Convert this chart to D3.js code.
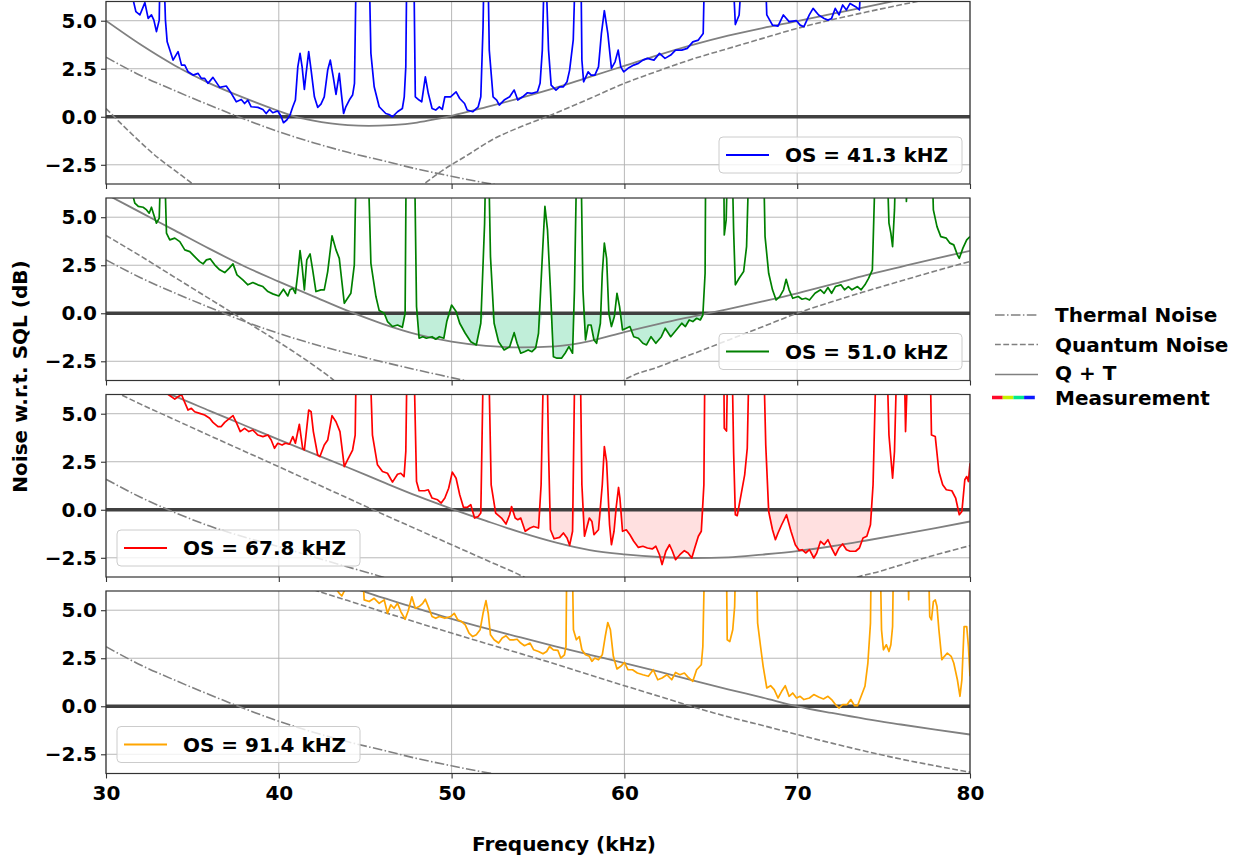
<!DOCTYPE html>
<html>
<head>
<meta charset="utf-8">
<script src="https://cdn.jsdelivr.net/npm/d3@7"></script>
<style>
  html, body { margin: 0; padding: 0; background: #fff; }
  svg { display: block; font-family: "DejaVu Sans", sans-serif; }
</style>
</head>
<body>
<svg id="chart" width="1248" height="859"></svg>
<script>
// ---- data (kHz, dB w.r.t. SQL); 9 = off the top of the axes ----
const xTicks = [30, 40, 50, 60, 70, 80];
const yTicks = [-2.5, 0, 2.5, 5];
const osLabels = ["OS = 41.3 kHZ", "OS = 51.0 kHZ", "OS = 67.8 kHZ", "OS = 91.4 kHZ"];
const legendLabels = ["Thermal Noise", "Quantum Noise", "Q + T", "Measurement"];

// panel 1 (OS 41.3 kHz)
const thermal1 = [[30,3.1],[32,2.15],[34,1.35],[36,0.6],[38,-0.12],[40,-0.78],[42,-1.35],[44,-1.85],[46,-2.28],[48,-2.72],[50,-3.1],[52,-3.45],[53,-3.6]];
const quantum1 = [[30,0.43],[31,-0.47],[32,-1.33],[33,-2.13],[34,-2.8],[35,-3.48],[35.6,-3.85],[40,null],
  [48.1,-3.7],[48.44,-3.47],[49.5,-2.78],[51,-1.95],[52.3,-1.22],[54,-0.52],[55.5,0.0],[58,0.95],[60,1.74],[62,2.4],[64,3.02],[66,3.55],[68,4.08],[70,4.6],[72,5.05],[74,5.45],[76,5.83],[77.5,6.1]];
const qt1 = [[30,5.0],[32,3.76],[34,2.66],[36,1.74],[38,0.98],[40,0.3],[41,0.0],[42,-0.2],[43,-0.34],[44,-0.43],[45.2,-0.47],[46.5,-0.43],[48,-0.3],[49,-0.14],[50,0.05],[52,0.5],[54,0.98],[56,1.5],[58,2.08],[60,2.65],[62,3.22],[64,3.75],[66,4.22],[68,4.62],[70,4.98],[72,5.35],[74,5.72],[76,6.1]];
const measBlue = [[31.5,9],[31.58,6.05],[31.73,5.47],[31.96,5.3],[32.25,5.94],[32.44,5.12],[32.63,5.3],[32.77,5.03],[32.92,4.43],[33.08,5.03],[33.15,9],[33.3,9],[33.44,5.03],[33.54,3.9],[33.88,2.95],[34.17,3.39],[34.37,2.69],[34.56,2.69],[34.75,2.34],[35.04,2.17],[35.33,2.26],[35.52,2.0],[35.71,2.0],[35.9,1.74],[36.19,2.05],[36.58,1.53],[36.96,1.6],[37.25,1.22],[37.54,0.78],[37.83,0.9],[38.02,0.69],[38.21,0.87],[38.4,0.52],[38.79,0.49],[39.08,0.38],[39.27,0.17],[39.46,0.38],[39.65,0.21],[39.94,0.3],[40.13,0.03],[40.27,-0.31],[40.46,-0.17],[40.65,0.09],[40.81,0.52],[40.96,0.87],[41.1,2.6],[41.23,3.3],[41.35,2.6],[41.48,1.42],[41.58,2.26],[41.73,3.39],[41.87,2.43],[42.06,1.04],[42.25,0.49],[42.44,0.66],[42.63,1.04],[42.83,2.43],[42.98,2.95],[43.15,2.08],[43.31,1.16],[43.5,2.26],[43.63,1.13],[43.75,0.17],[43.88,0.52],[44.08,0.87],[44.27,1.13],[44.38,1.74],[44.5,9],[45.2,9],[45.33,3.3],[45.52,1.56],[45.81,0.52],[46.19,0.17],[46.38,0.12],[46.58,0.0],[46.87,0.26],[47.15,0.43],[47.26,1.04],[47.35,2.6],[47.42,9],[47.8,9],[47.9,1.04],[48.12,0.87],[48.27,0.78],[48.48,2.08],[48.65,1.22],[48.87,0.43],[49.08,0.35],[49.29,0.52],[49.46,0.38],[49.61,1.04],[49.94,1.04],[50.26,1.3],[50.47,0.95],[50.75,0.69],[50.9,0.35],[51.22,0.26],[51.54,0.52],[51.69,1.04],[51.82,4.69],[51.9,9],[52.08,9],[52.18,3.47],[52.4,1.04],[52.61,0.87],[52.76,0.61],[53.04,0.87],[53.36,1.04],[53.62,1.39],[53.83,0.87],[54.11,1.04],[54.39,1.25],[54.65,1.22],[54.97,1.3],[55.12,1.74],[55.25,3.47],[55.4,9],[55.61,3.47],[55.76,1.65],[56.04,1.39],[56.25,1.56],[56.47,1.56],[56.68,1.82],[56.83,2.43],[57.04,4.0],[57.2,9],[57.47,9],[57.54,2.95],[57.64,1.82],[57.9,2.34],[58.07,2.17],[58.29,2.17],[58.5,2.6],[58.67,4.34],[58.84,5.52],[59.04,4.34],[59.25,2.52],[59.46,2.86],[59.64,3.47],[59.79,2.6],[59.96,2.34],[60.21,2.52],[60.54,2.69],[60.81,2.78],[61.07,2.95],[61.33,3.04],[61.71,2.95],[62.03,3.3],[62.35,3.04],[62.68,3.21],[62.96,3.47],[63.32,3.47],[63.64,3.56],[63.96,3.9],[64.28,3.99],[64.56,4.34],[64.67,9],[66.2,9],[66.42,4.8],[66.64,5.3],[66.9,9],[68.1,9],[68.24,5.3],[68.57,4.77],[68.89,4.72],[69.2,5.3],[69.53,4.95],[69.96,5.0],[70.17,4.77],[70.39,4.69],[70.7,5.3],[70.92,5.64],[71.24,5.3],[71.56,5.12],[71.78,5.03],[71.99,5.12],[72.2,5.64],[72.42,5.3],[72.63,5.82],[72.85,5.56],[73.06,5.9],[73.38,5.73],[73.6,5.56],[73.81,9],[80,9]];

// panel 2 (OS 51.0 kHz)
const thermal2 = [[30,2.78],[32,1.85],[34,1.05],[36,0.3],[38,-0.42],[40,-1.05],[42,-1.6],[44,-2.08],[46,-2.53],[48,-2.95],[50,-3.35],[51,-3.55]];
const quantum2 = [[30,4.05],[32,2.98],[34,1.86],[36,0.75],[37.35,0],[38,-0.37],[40,-1.5],[42,-2.7],[43.2,-3.5],[43.6,-3.8],[50,null],
  [59.7,-3.65],[60,-3.47],[62,-2.78],[64,-2.1],[66,-1.4],[68,-0.7],[70,0.0],[72,0.6],[74,1.15],[76,1.68],[78,2.2],[80,2.7]];
const qt2 = [[30,6.2],[32,5.25],[34,4.3],[36,3.35],[38,2.45],[40,1.65],[42,0.88],[44,0.12],[46,-0.55],[48,-1.1],[50,-1.48],[52,-1.7],[54,-1.78],[56,-1.72],[58,-1.45],[60,-0.98],[62,-0.55],[64,-0.16],[66,0.22],[68,0.62],[70,1.04],[72,1.5],[74,1.98],[76,2.42],[78,2.85],[80,3.25]];
const measGreen = [[31.5,9],[31.58,6.04],[31.67,5.73],[31.87,5.56],[32.15,5.52],[32.35,5.38],[32.5,5.21],[32.63,5.52],[32.77,5.12],[32.92,4.69],[33.08,4.95],[33.21,9],[33.35,9],[33.5,4.17],[33.69,3.82],[33.98,3.91],[34.27,3.73],[34.56,3.3],[34.85,3.21],[35.13,2.95],[35.42,2.69],[35.62,2.57],[35.81,2.78],[36.04,2.83],[36.29,2.52],[36.58,2.26],[36.87,2.12],[37.12,2.34],[37.35,2.57],[37.58,2.0],[37.92,1.74],[38.21,1.48],[38.5,1.6],[38.79,1.48],[39.08,1.39],[39.37,1.13],[39.65,1.01],[40.0,0.9],[40.27,1.25],[40.52,0.9],[40.65,1.22],[40.81,1.3],[40.96,1.04],[41.1,2.08],[41.23,3.26],[41.35,2.43],[41.48,1.22],[41.62,2.78],[41.81,3.09],[41.96,2.26],[42.15,1.13],[42.44,1.22],[42.63,1.22],[42.83,2.17],[43.08,4.03],[43.31,3.3],[43.5,2.86],[43.79,0.52],[43.98,0.78],[44.17,1.04],[44.37,2.52],[44.5,9],[45.13,9],[45.33,2.6],[45.62,0.87],[45.81,0.14],[46.1,0.0],[46.29,-0.43],[46.58,-0.69],[46.87,-0.61],[47.15,-0.73],[47.31,0.0],[47.38,9],[47.84,9],[47.97,0.35],[48.12,-1.3],[48.33,-1.22],[48.54,-1.3],[48.87,-1.22],[49.08,-1.35],[49.29,-1.22],[49.55,-1.3],[49.72,-0.43],[50.0,0.43],[50.26,0.09],[50.47,-0.52],[50.79,-1.04],[51.11,-1.48],[51.43,-1.65],[51.69,-0.52],[51.91,4.69],[52.0,9],[52.12,9],[52.25,2.95],[52.46,-0.52],[52.72,-1.48],[53.04,-1.91],[53.36,-1.74],[53.62,-1.01],[53.79,-1.56],[54.0,-2.08],[54.22,-2.0],[54.43,-1.91],[54.65,-2.0],[54.86,-1.82],[55.03,-1.04],[55.25,2.95],[55.4,5.56],[55.55,4.34],[55.72,1.22],[55.89,-2.26],[56.1,-2.34],[56.36,-2.34],[56.57,-2.08],[56.79,-1.74],[57.0,-2.08],[57.11,1.22],[57.26,9],[57.47,9],[57.6,1.22],[57.75,-1.39],[57.9,-0.61],[58.07,-0.61],[58.24,-1.39],[58.39,-1.56],[58.61,-0.52],[58.72,2.08],[58.84,3.65],[58.97,2.86],[59.1,0.0],[59.25,-0.69],[59.42,-0.17],[59.57,1.04],[59.72,0.35],[59.89,-0.87],[60.11,-0.78],[60.32,-0.69],[60.54,-1.22],[60.81,-1.3],[61.07,-1.56],[61.28,-1.65],[61.54,-1.22],[61.82,-1.56],[62.14,-1.22],[62.36,-0.78],[62.68,-1.22],[63.0,-0.87],[63.32,-0.52],[63.53,-0.69],[63.75,-0.35],[63.96,-0.43],[64.18,-0.26],[64.39,-0.35],[64.54,-0.09],[64.67,2.08],[64.71,9],[65.74,9],[65.78,4.08],[65.89,4.86],[66.0,9],[66.21,9],[66.32,4.34],[66.42,1.48],[66.64,1.82],[66.9,2.17],[67.07,3.47],[67.24,9],[68.03,9],[68.14,3.99],[68.35,2.08],[68.57,1.22],[68.78,0.69],[68.99,0.87],[69.21,1.22],[69.36,1.77],[69.53,1.22],[69.74,0.78],[70.06,0.87],[70.28,0.73],[70.49,0.78],[70.71,0.69],[71.03,1.04],[71.35,1.22],[71.56,1.04],[71.78,1.34],[71.99,1.04],[72.21,1.39],[72.53,1.48],[72.74,1.22],[72.96,1.39],[73.17,1.22],[73.49,1.39],[73.7,1.22],[73.92,1.48],[74.13,1.82],[74.35,2.26],[74.56,9],[75.16,9],[75.31,4.69],[75.42,4.17],[75.52,3.47],[75.63,5.38],[75.74,9],[76.27,9],[76.32,5.82],[76.45,9],[77.77,9],[77.88,5.38],[78.09,4.51],[78.31,3.99],[78.63,3.91],[78.84,3.65],[79.06,3.56],[79.27,3.04],[79.38,2.86],[79.59,3.39],[79.81,3.82],[80.0,3.99]];

// panel 3 (OS 67.8 kHz)
const thermal3 = [[30,1.59],[32,0.65],[34,-0.15],[36,-0.85],[38,-1.42],[40,-1.92],[42,-2.45],[44,-2.98],[46,-3.5],[46.5,-3.65]];
const quantum3 = [[30.5,6.15],[32,5.5],[34,4.68],[36,3.86],[38,3.05],[40,2.24],[42,1.42],[44,0.6],[46,-0.22],[48,-1.02],[50,-1.82],[52,-2.62],[54,-3.42],[54.5,-3.65],[60,null],
  [73,-3.65],[73.5,-3.5],[74.8,-3.2],[76,-2.87],[78,-2.35],[80,-1.87]];
const qt3 = [[33.3,6.15],[34,5.9],[36,5.15],[38,4.4],[40,3.65],[42,2.92],[44,2.2],[46,1.45],[48,0.72],[50,0.05],[52,-0.58],[54,-1.18],[56,-1.7],[58,-2.1],[60,-2.32],[62,-2.46],[64,-2.51],[66,-2.48],[68,-2.33],[70,-2.15],[72,-1.9],[74,-1.6],[76,-1.28],[78,-0.95],[80,-0.61]];
const measRed = [[33.5,6.3],[33.6,6.0],[33.79,5.88],[33.98,5.76],[34.17,5.88],[34.37,6.0],[34.5,5.71],[34.75,5.19],[34.94,5.28],[35.13,5.1],[35.42,5.02],[35.71,4.93],[36.0,4.76],[36.19,4.55],[36.48,4.33],[36.67,4.33],[36.87,4.55],[37.15,4.76],[37.35,4.9],[37.54,4.55],[37.77,4.07],[38.02,4.24],[38.27,4.07],[38.5,4.15],[38.79,3.89],[39.08,3.81],[39.37,3.89],[39.56,3.63],[39.75,3.2],[39.94,3.46],[40.19,3.37],[40.38,3.46],[40.62,3.41],[40.81,3.81],[40.96,3.46],[41.19,4.45],[41.38,3.2],[41.48,3.11],[41.73,5.19],[41.87,5.1],[42.0,4.07],[42.25,2.85],[42.38,2.77],[42.63,3.37],[42.83,3.63],[43.08,4.9],[43.31,4.58],[43.54,4.07],[43.79,2.25],[43.98,2.6],[44.27,3.11],[44.42,3.89],[44.5,9],[45.23,9],[45.42,3.89],[45.71,2.34],[46.0,1.99],[46.29,1.9],[46.58,1.44],[46.87,1.85],[47.06,1.9],[47.25,1.73],[47.35,3.03],[47.44,9],[47.79,9],[47.97,1.47],[48.12,0.99],[48.44,0.99],[48.65,1.04],[48.87,0.61],[49.19,0.52],[49.4,0.35],[49.61,0.61],[49.83,1.12],[50.04,1.96],[50.26,1.64],[50.47,0.78],[50.69,0.12],[50.9,0.12],[51.11,0.26],[51.33,-0.43],[51.54,-0.35],[51.69,-0.17],[51.86,9],[52.12,9],[52.29,1.3],[52.55,-0.17],[52.89,-0.43],[53.15,-0.74],[53.36,-0.26],[53.47,0.17],[53.68,-0.43],[53.83,-0.52],[54.0,-0.43],[54.26,-1.12],[54.54,-0.95],[54.75,-0.87],[55.03,-0.95],[55.18,1.3],[55.35,9],[55.5,9],[55.61,3.03],[55.72,-1.04],[55.93,-1.51],[56.25,-1.44],[56.47,-1.21],[56.68,-1.47],[56.83,-1.85],[57.0,-1.12],[57.15,9],[57.43,9],[57.54,1.3],[57.69,-1.38],[57.97,-0.43],[58.12,-0.61],[58.24,-1.3],[58.5,-1.04],[58.72,1.3],[58.84,3.29],[58.97,2.51],[59.14,-0.78],[59.25,-1.82],[59.4,-1.12],[59.53,0.17],[59.66,1.16],[59.74,0.61],[59.89,-1.12],[60.11,-1.04],[60.32,-1.3],[60.54,-1.64],[60.81,-1.96],[61.07,-1.9],[61.33,-1.99],[61.61,-2.04],[61.82,-1.9],[62.03,-2.34],[62.18,-2.85],[62.4,-2.16],[62.61,-1.82],[62.78,-2.16],[62.96,-2.6],[63.21,-2.34],[63.47,-2.13],[63.68,-2.25],[63.9,-2.51],[64.07,-1.99],[64.28,-1.38],[64.45,-1.12],[64.6,1.3],[64.67,9],[65.74,9],[65.78,4.24],[65.91,4.1],[66.0,9],[66.21,9],[66.32,3.03],[66.42,-0.26],[66.53,-0.31],[66.75,0.78],[66.96,1.82],[67.11,3.2],[67.24,9],[68.03,9],[68.18,3.37],[68.35,-0.09],[68.57,-1.04],[68.74,-1.56],[68.89,-1.21],[69.1,-0.78],[69.38,-0.26],[69.64,-1.12],[69.89,-1.82],[70.11,-2.11],[70.28,-2.08],[70.49,-2.25],[70.71,-2.08],[70.96,-2.51],[71.13,-2.25],[71.35,-1.64],[71.56,-1.82],[71.78,-1.56],[71.99,-1.99],[72.21,-2.37],[72.42,-1.99],[72.63,-1.78],[72.85,-2.08],[73.06,-2.16],[73.38,-2.16],[73.6,-1.99],[73.81,-1.47],[74.03,-1.38],[74.24,-0.78],[74.39,1.3],[74.6,9],[75.16,9],[75.31,3.89],[75.52,1.64],[75.63,3.03],[75.8,9],[76.17,9],[76.27,4.07],[76.45,9],[77.67,9],[77.77,3.89],[77.99,3.81],[78.2,1.99],[78.42,1.3],[78.63,1.04],[78.95,0.99],[79.17,0.61],[79.38,-0.26],[79.53,-0.09],[79.7,1.56],[79.81,1.73],[79.91,1.47],[80.0,2.42]];

// panel 4 (OS 91.4 kHz)
const thermal4 = [[30,3.1],[32,2.15],[34,1.35],[36,0.6],[38,-0.12],[40,-0.78],[42,-1.35],[44,-1.85],[46,-2.28],[48,-2.72],[50,-3.1],[52,-3.45],[53,-3.6]];
const quantum4 = [[42,6.07],[44,5.5],[46,4.92],[48,4.36],[50,3.81],[52,3.27],[54,2.74],[56,2.2],[58,1.63],[60,1.07],[62,0.52],[64,-0.04],[66,-0.55],[68,-1.0],[70,-1.47],[72,-1.92],[74,-2.35],[76,-2.75],[78,-3.1],[80,-3.43]];
const qt4 = [[44.5,6.1],[46,5.65],[48,5.1],[50,4.55],[52,4.05],[54,3.58],[56,3.12],[58,2.68],[60,2.25],[62,1.8],[64,1.33],[66,0.88],[68,0.45],[70,0.0],[72,-0.35],[74,-0.67],[76,-0.95],[78,-1.22],[80,-1.47]];
const measOrange = [[43.3,9],[43.4,6.0],[43.5,5.88],[43.65,5.74],[43.79,6.0],[43.9,9],[44.75,9],[44.94,5.54],[45.23,5.45],[45.52,5.62],[45.81,5.36],[46.1,5.54],[46.29,4.84],[46.48,5.28],[46.67,5.1],[46.87,5.36],[47.06,4.93],[47.31,4.53],[47.5,5.0],[47.7,5.7],[47.9,5.1],[48.12,5.19],[48.33,5.36],[48.48,5.57],[48.65,5.19],[48.87,4.67],[49.08,4.58],[49.29,4.67],[49.61,4.58],[49.94,4.67],[50.15,4.84],[50.36,4.5],[50.58,4.41],[50.79,4.24],[51.01,3.81],[51.22,3.63],[51.43,3.72],[51.65,3.98],[51.82,4.84],[51.99,5.5],[52.12,4.84],[52.25,3.72],[52.46,3.46],[52.72,3.29],[52.93,3.55],[53.15,3.67],[53.36,3.46],[53.58,3.46],[53.79,3.49],[54.0,3.29],[54.22,3.15],[54.54,3.29],[54.75,2.94],[55.03,2.85],[55.29,2.73],[55.5,2.85],[55.67,3.11],[55.89,2.94],[56.15,2.91],[56.32,2.51],[56.53,2.68],[56.62,3.11],[56.68,9],[56.96,9],[57.05,3.98],[57.22,3.46],[57.39,3.63],[57.54,2.94],[57.75,2.68],[57.97,2.6],[58.12,2.34],[58.29,2.51],[58.5,2.42],[58.72,2.68],[58.89,3.63],[59.04,4.36],[59.19,3.98],[59.36,2.6],[59.57,1.94],[59.79,2.08],[60.0,2.28],[60.21,1.9],[60.47,1.9],[60.75,1.73],[61.07,1.64],[61.39,1.56],[61.67,1.9],[61.93,1.38],[62.18,1.47],[62.46,1.64],[62.74,1.38],[62.96,1.76],[63.21,1.64],[63.47,1.73],[63.68,1.52],[63.96,1.3],[64.18,1.9],[64.45,2.16],[64.54,3.11],[64.67,9],[65.89,9],[65.95,3.46],[66.1,3.37],[66.27,3.98],[66.38,5.19],[66.47,9],[67.6,9],[67.71,4.33],[67.88,3.11],[68.03,2.08],[68.24,0.95],[68.46,1.07],[68.67,0.87],[68.89,0.43],[69.1,0.78],[69.31,1.07],[69.53,0.52],[69.74,0.69],[69.96,0.43],[70.17,0.52],[70.39,0.35],[70.71,0.43],[70.96,0.61],[71.24,0.48],[71.52,0.38],[71.78,0.52],[71.99,0.35],[72.21,0.09],[72.42,-0.09],[72.63,0.09],[72.89,0.09],[73.1,0.35],[73.32,0.03],[73.49,0.03],[73.7,0.52],[73.92,1.04],[74.09,2.25],[74.24,4.33],[74.3,9],[74.78,9],[74.88,3.98],[74.99,2.94],[75.16,3.2],[75.31,2.85],[75.42,3.2],[75.52,4.15],[75.59,9],[76.38,9],[76.45,5.54],[76.5,9],[77.56,9],[77.67,4.67],[77.77,4.5],[77.88,5.45],[77.99,5.54],[78.09,5.19],[78.2,3.98],[78.37,2.42],[78.52,2.6],[78.69,2.77],[78.91,2.6],[79.06,2.25],[79.27,1.38],[79.42,0.52],[79.53,1.38],[79.66,4.15],[79.81,4.15],[79.91,3.11],[80.0,1.56]];

// ---- layout / style ----
const svg = d3.select("#chart");
const left = 106, right = 970;
const panelTop0 = 1.5, panelPitch = 196.5, panelH = 182.5;
const gray = "#808080";
const dashQ = "5.8,2.5", dashT = "9.6,2.4,1.5,2.4";

const panels = [
  { meas: measBlue,   thermal: thermal1, quantum: quantum1, qt: qt1, color: "#0000ff", fill: null,      legendLeft: false },
  { meas: measGreen,  thermal: thermal2, quantum: quantum2, qt: qt2, color: "#008000", fill: "#3cc98a", fillOp: 0.32, legendLeft: false },
  { meas: measRed,    thermal: thermal3, quantum: quantum3, qt: qt3, color: "#ff0000", fill: "#ff0000", fillOp: 0.12, legendLeft: true },
  { meas: measOrange, thermal: thermal4, quantum: quantum4, qt: qt4, color: "#ffa500", fill: null,      legendLeft: true }
];

const x = d3.scaleLinear().domain([30, 80]).range([left, right]);

function styleAxisText(g) {
  g.selectAll("text")
    .attr("font-family", "DejaVu Sans, sans-serif")
    .attr("font-size", 20)
    .attr("font-weight", "bold")
    .attr("fill", "#000");
  g.selectAll("line").attr("stroke", "#333").attr("stroke-width", 1.1);
  g.select(".domain").remove();
}

panels.forEach((p, i) => {
  const top = panelTop0 + i * panelPitch;
  const bottom = top + panelH;
  const y = d3.scaleLinear().domain([-3.5, 6]).range([bottom, top]);
  const g = svg.append("g").attr("class", "panel");

  const clipId = "clip" + i;
  svg.append("clipPath").attr("id", clipId)
    .append("rect").attr("x", left).attr("y", top).attr("width", right - left).attr("height", panelH);

  // grid
  g.selectAll("line.vgrid").data(xTicks).enter().append("line")
    .attr("x1", d => x(d)).attr("x2", d => x(d)).attr("y1", top).attr("y2", bottom)
    .attr("stroke", "#b0b0b0").attr("stroke-width", 0.9);
  g.selectAll("line.hgrid").data(yTicks).enter().append("line")
    .attr("x1", left).attr("x2", right).attr("y1", d => y(d)).attr("y2", d => y(d))
    .attr("stroke", "#b0b0b0").attr("stroke-width", 0.9);

  const plot = g.append("g").attr("clip-path", `url(#${clipId})`);

  // shaded region below SQL
  if (p.fill) {
    const area = d3.area().x(d => x(d[0])).y0(y(0)).y1(d => y(Math.min(0, d[1])));
    plot.append("path").datum(p.meas).attr("d", area)
      .attr("fill", p.fill).attr("fill-opacity", p.fillOp).attr("stroke", "none");
  }

  // SQL reference line
  plot.append("line").attr("x1", left).attr("x2", right).attr("y1", y(0)).attr("y2", y(0))
    .attr("stroke", "#404040").attr("stroke-width", 3.5);

  const smooth = d3.line().defined(d => d[1] !== null)
    .x(d => x(d[0])).y(d => y(d[1])).curve(d3.curveMonotoneX);
  plot.append("path").datum(p.thermal).attr("d", smooth)
    .attr("fill", "none").attr("stroke", gray).attr("stroke-width", 1.6).attr("stroke-dasharray", dashT);
  plot.append("path").datum(p.quantum).attr("d", smooth)
    .attr("fill", "none").attr("stroke", gray).attr("stroke-width", 1.6).attr("stroke-dasharray", dashQ);
  plot.append("path").datum(p.qt).attr("d", smooth)
    .attr("fill", "none").attr("stroke", gray).attr("stroke-width", 1.8);

  const raw = d3.line().x(d => x(d[0])).y(d => y(d[1]));
  plot.append("path").datum(p.meas).attr("d", raw)
    .attr("fill", "none").attr("stroke", p.color).attr("stroke-width", 1.7)
    .attr("stroke-linejoin", "round");

  // spines
  g.append("rect").attr("x", left).attr("y", top).attr("width", right - left).attr("height", panelH)
    .attr("fill", "none").attr("stroke", "#333").attr("stroke-width", 1.2);

  // axes
  g.append("g").attr("transform", `translate(${left},0)`)
    .call(d3.axisLeft(y).tickValues(yTicks).tickSize(5).tickPadding(4).tickFormat(d3.format(".1f")))
    .call(styleAxisText);
  g.append("g").attr("transform", `translate(0,${bottom})`)
    .call(d3.axisBottom(x).tickValues(xTicks).tickSize(5).tickPadding(7)
      .tickFormat(i === panels.length - 1 ? d3.format("d") : () => ""))
    .call(styleAxisText);

  // per-panel legend
  const lw = 243, lh = 36;
  const lx = p.legendLeft ? 117 : 719;
  const ly = bottom - 47;
  const lg = g.append("g").attr("transform", `translate(${lx},${ly})`);
  lg.append("rect").attr("width", lw).attr("height", lh).attr("rx", 4)
    .attr("fill", "#fff").attr("fill-opacity", 0.8).attr("stroke", "#cccccc").attr("stroke-width", 1);
  lg.append("line").attr("x1", 7).attr("x2", 50).attr("y1", lh / 2).attr("y2", lh / 2)
    .attr("stroke", p.color).attr("stroke-width", 1.8);
  lg.append("text").attr("x", 66).attr("y", lh / 2).attr("dy", "0.36em")
    .attr("font-size", 20).attr("font-weight", "bold").text(osLabels[i]);
});

// figure legend on the right
const fl = svg.append("g");
const rowY = [315, 344.5, 373, 397.5];
const styles = [dashT, dashQ, null];
styles.forEach((dash, k) => {
  const ln = fl.append("line").attr("x1", 995).attr("x2", 1038).attr("y1", rowY[k] + (k === 2 ? 1.5 : 0)).attr("y2", rowY[k] + (k === 2 ? 1.5 : 0))
    .attr("stroke", gray).attr("stroke-width", 1.6);
  if (dash) ln.attr("stroke-dasharray", dash);
});
const rainbow = ["#ff0a2a", "#c6f000", "#00e890", "#0a1aff"];
rainbow.forEach((c, k) => {
  fl.append("line").attr("x1", 992 + k * 10.7).attr("x2", 992 + (k + 1) * 10.7)
    .attr("y1", rowY[3]).attr("y2", rowY[3]).attr("stroke", c).attr("stroke-width", 3.5);
});
legendLabels.forEach((t, k) => {
  fl.append("text").attr("x", 1055).attr("y", rowY[k]).attr("dy", "0.36em")
    .attr("font-size", 20).attr("font-weight", "bold").text(t);
});

// axis titles
svg.append("text").attr("x", 564).attr("y", 851).attr("text-anchor", "middle")
  .attr("font-size", 20).attr("font-weight", "bold").text("Frequency (kHz)");
svg.append("text").attr("transform", "translate(27,376.5) rotate(-90)").attr("text-anchor", "middle")
  .attr("font-size", 20).attr("font-weight", "bold").text("Noise w.r.t. SQL (dB)");
</script>
</body>
</html>
